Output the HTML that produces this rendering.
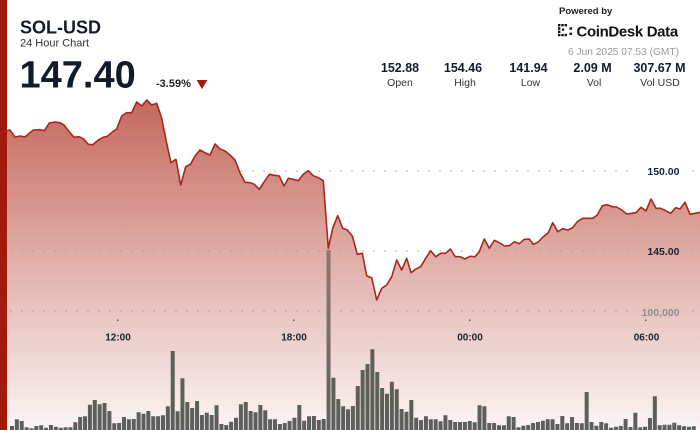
<!DOCTYPE html>
<html><head><meta charset="utf-8"><style>
html,body{margin:0;padding:0;background:#fff;}
svg{display:block;font-family:"Liberation Sans",sans-serif;}
</style></head><body>
<svg width="700" height="430" viewBox="0 0 700 430" xmlns="http://www.w3.org/2000/svg">
<defs>
<linearGradient id="ag" gradientUnits="userSpaceOnUse" x1="0" y1="95" x2="0" y2="430">
<stop offset="0" stop-color="#c4665b"/>
<stop offset="0.5" stop-color="#e1b0aa"/>
<stop offset="1" stop-color="#fbf5f4"/>
</linearGradient>
<linearGradient id="tb" gradientUnits="userSpaceOnUse" x1="0" y1="250" x2="0" y2="400">
<stop offset="0" stop-color="#8b7670"/>
<stop offset="0.5" stop-color="#7a716b"/>
<stop offset="1" stop-color="#62645d"/>
</linearGradient>
<path id="pl" d="M6,431 L6,130.7 L7,130.7 L10,130 L15,137.3 L20,136 L25,137 L33.3,130 L40,129.7 L44.3,130.7 L49.3,123 L55,122 L60,122.7 L64,125 L68.3,130.7 L74,137.3 L79,136.7 L83.3,138.7 L88.3,144.3 L92.7,144.7 L98.3,140 L103.3,137.3 L107.3,136.3 L112.7,131.7 L116.7,129 L121.7,116 L126.7,112.7 L131.7,112.7 L136.7,102 L141.7,106 L146.7,100 L151.7,105 L156.7,103.3 L161.7,118.3 L166.7,143.3 L171,162.7 L176,159.3 L180.7,185 L185.7,166.7 L190.7,164 L195,156 L200,150 L205,152.7 L210,155 L215,144 L220,149 L225,151 L230,155 L235,160 L240,172.7 L245,182.3 L250,182.7 L254.3,184.3 L259.3,189.3 L264.3,181.7 L269.3,174.3 L274.3,175.3 L279.3,176 L284,186 L288.3,178.3 L293.3,179.3 L298.3,180.7 L303.3,174.3 L308.3,170.7 L313.3,175.7 L318.3,177.7 L323.3,180.7 L328.3,248.3 L332.7,228.3 L337.7,215.7 L342.7,228.3 L347.3,230 L352.3,236 L357.3,254.3 L362.3,253.3 L366.7,276 L371.7,277.7 L376.7,300 L381.7,288.3 L386.7,285 L391.7,276.7 L396.7,260 L401.7,270 L406.7,258.3 L411,272.7 L416,269 L420.7,266.7 L425.7,258.3 L430.7,250.7 L435.7,256.7 L440.7,253.3 L445.7,253.3 L450.3,249 L455.3,256.7 L460,256.7 L465,259 L470,256.3 L475,256.7 L479.3,251.7 L484.3,239 L489.3,248.3 L494.3,240.3 L499.3,242.7 L504.3,246 L509.3,245.7 L514.3,241.7 L519.3,243.7 L524.3,239.3 L529.3,239 L533.3,244.3 L538.3,242 L543.3,236.7 L548.3,232.7 L552.7,222.7 L557.7,231.7 L562.7,228.7 L567.7,230 L572.7,227.7 L577.3,221.7 L582.7,218.3 L587.7,218.3 L592.7,218.3 L597.3,215 L602.3,205.7 L607.3,204.7 L612.3,206.7 L616.7,207 L621.7,210 L626.7,214 L631.7,213.3 L636,212.7 L641,207.3 L646,211 L651,199 L656,208.3 L660.7,208.3 L665.7,210.7 L670.7,213.3 L675.7,207.7 L680,209 L685,202.3 L690,214.3 L695,213.3 L700,212.3 L702,212.3 L702,431 Z"/>
</defs>
<rect width="700" height="430" fill="#fff"/>
<use href="#pl" fill="url(#ag)"/>
<g stroke="#9a9a9a" stroke-width="1.2" stroke-dasharray="1.2,9.8">
<line x1="10.4" y1="171" x2="634" y2="171"/>
<line x1="10.4" y1="251" x2="634" y2="251"/>
<line x1="10.4" y1="311" x2="634" y2="311"/>
<line x1="692.4" y1="171" x2="700" y2="171"/>
<line x1="692.4" y1="251" x2="700" y2="251"/>
<line x1="692.4" y1="311" x2="700" y2="311"/>
</g>
<g fill="#222">
<rect x="117.3" y="319.5" width="1" height="1.5"/>
<rect x="293.3" y="319.5" width="1" height="1.5"/>
<rect x="469.3" y="319.5" width="1" height="1.5"/>
<rect x="645.3" y="319.5" width="1" height="1.5"/>
</g>
<path fill="#5c6058" d="M10 426h4V430h-4z M14.87 419.3h4V430h-4z M19.74 421h4V430h-4z M24.61 427.3h4V430h-4z M29.48 428.3h4V430h-4z M34.35 426h4V430h-4z M39.22 425.3h4V430h-4z M44.09 427.7h4V430h-4z M48.96 425h4V430h-4z M53.83 426.7h4V430h-4z M58.7 427.7h4V430h-4z M63.57 427.3h4V430h-4z M68.44 427.3h4V430h-4z M73.31 422.3h4V430h-4z M78.18 417h4V430h-4z M83.05 416.3h4V430h-4z M87.92 404.7h4V430h-4z M92.79 400h4V430h-4z M97.66 404.3h4V430h-4z M102.53 403h4V430h-4z M107.4 411h4V430h-4z M112.27 423.3h4V430h-4z M117.14 423h4V430h-4z M122.01 417h4V430h-4z M126.88 419.3h4V430h-4z M131.75 419h4V430h-4z M136.62 412.3h4V430h-4z M141.49 413.7h4V430h-4z M146.36 411h4V430h-4z M151.23 416.3h4V430h-4z M156.1 416.3h4V430h-4z M160.97 415.3h4V430h-4z M165.84 406.3h4V430h-4z M170.71 351h4V430h-4z M175.58 411.3h4V430h-4z M180.45 378.3h4V430h-4z M185.32 402h4V430h-4z M190.19 408h4V430h-4z M195.06 401h4V430h-4z M199.93 415h4V430h-4z M204.8 412.7h4V430h-4z M209.67 415h4V430h-4z M214.54 405.3h4V430h-4z M219.41 424h4V430h-4z M224.28 425h4V430h-4z M229.15 421.7h4V430h-4z M234.02 417.7h4V430h-4z M238.89 404.3h4V430h-4z M243.76 402h4V430h-4z M248.63 411h4V430h-4z M253.5 412.3h4V430h-4z M258.37 405h4V430h-4z M263.24 410.3h4V430h-4z M268.11 419.3h4V430h-4z M272.98 419.3h4V430h-4z M277.85 424h4V430h-4z M282.72 423h4V430h-4z M287.59 421h4V430h-4z M292.46 417.7h4V430h-4z M297.33 405h4V430h-4z M302.2 420.7h4V430h-4z M307.07 416.3h4V430h-4z M311.94 416h4V430h-4z M316.81 420h4V430h-4z M321.68 419h4V430h-4z M331.42 377.7h4V430h-4z M336.29 399h4V430h-4z M341.16 406.3h4V430h-4z M346.03 409.3h4V430h-4z M350.9 406h4V430h-4z M355.77 386h4V430h-4z M360.64 370h4V430h-4z M365.51 364h4V430h-4z M370.38 349.3h4V430h-4z M375.25 372h4V430h-4z M380.12 388h4V430h-4z M384.99 393.7h4V430h-4z M389.86 381.7h4V430h-4z M394.73 389.3h4V430h-4z M399.6 409h4V430h-4z M404.47 411.7h4V430h-4z M409.34 400h4V430h-4z M414.21 417.7h4V430h-4z M419.08 420h4V430h-4z M423.95 416.3h4V430h-4z M428.82 419.3h4V430h-4z M433.69 419.3h4V430h-4z M438.56 421.3h4V430h-4z M443.43 415.3h4V430h-4z M448.3 420h4V430h-4z M453.17 422h4V430h-4z M458.04 422h4V430h-4z M462.91 422h4V430h-4z M467.78 421h4V430h-4z M472.65 422.3h4V430h-4z M477.52 405.3h4V430h-4z M482.39 406.3h4V430h-4z M487.26 423h4V430h-4z M492.13 423h4V430h-4z M497 425.3h4V430h-4z M501.87 425.3h4V430h-4z M506.74 416.3h4V430h-4z M511.61 417h4V430h-4z M516.48 427.3h4V430h-4z M521.35 425.7h4V430h-4z M526.22 425h4V430h-4z M531.09 423h4V430h-4z M535.96 422h4V430h-4z M540.83 420.7h4V430h-4z M545.7 419.3h4V430h-4z M550.57 419.3h4V430h-4z M555.44 424h4V430h-4z M560.31 416h4V430h-4z M565.18 423.3h4V430h-4z M570.05 417h4V430h-4z M574.92 423h4V430h-4z M579.79 423.3h4V430h-4z M584.66 392h4V430h-4z M589.53 422h4V430h-4z M594.4 425.7h4V430h-4z M599.27 422h4V430h-4z M604.14 423.3h4V430h-4z M609.01 427.7h4V430h-4z M613.88 426.7h4V430h-4z M618.75 426h4V430h-4z M623.62 419h4V430h-4z M628.49 427h4V430h-4z M633.36 412.7h4V430h-4z M638.23 427.3h4V430h-4z M643.1 426.7h4V430h-4z M647.97 418h4V430h-4z M652.84 396.3h4V430h-4z M657.71 425.3h4V430h-4z M662.58 424.7h4V430h-4z M667.45 424.7h4V430h-4z M672.32 422.7h4V430h-4z M677.19 425.3h4V430h-4z M682.06 426.3h4V430h-4z M686.93 426.7h4V430h-4z M691.8 426.3h4V430h-4z"/>
<rect x="326.55" y="250" width="4" height="180" fill="url(#tb)"/>
<use href="#pl" fill="none" stroke="#a8281b" stroke-width="1.6" stroke-linejoin="round"/>
<rect x="0" y="0" width="7" height="430" fill="#a21a0e"/>
<g font-size="10.5" font-weight="bold" text-anchor="end">
<text x="679.5" y="174.8" fill="#1b2232">150.00</text>
<text x="679.5" y="254.8" fill="#1b2232">145.00</text>
<text x="679.5" y="315.8" fill="#8e8e8e">100,000</text>
</g>
<g font-size="10" font-weight="bold" text-anchor="middle" fill="#1b2232">
<text x="118" y="340.5">12:00</text>
<text x="294" y="340.5">18:00</text>
<text x="470" y="340.5">00:00</text>
<text x="646.5" y="340.5">06:00</text>
</g>
<text x="20" y="33.7" font-size="18" font-weight="bold" fill="#141c2b">SOL-USD</text>
<text x="20" y="46.7" font-size="11" fill="#333">24 Hour Chart</text>
<text x="19.5" y="87.3" font-size="38" font-weight="bold" fill="#131b2b">147.40</text>
<text x="156" y="87" font-size="11" font-weight="bold" fill="#222">-3.59%</text>
<polygon points="196.5,80 207.5,80 202,89" fill="#a51b0e"/>
<g font-size="12.5" font-weight="bold" text-anchor="middle" fill="#141c2b">
<text x="400" y="72">152.88</text>
<text x="463" y="72">154.46</text>
<text x="528.5" y="72">141.94</text>
<text x="592.5" y="72">2.09 M</text>
<text x="659.5" y="72">307.67 M</text>
</g>
<g font-size="10.5" text-anchor="middle" fill="#333">
<text x="400" y="86">Open</text>
<text x="465" y="86">High</text>
<text x="530.5" y="86">Low</text>
<text x="594" y="86">Vol</text>
<text x="660" y="86">Vol USD</text>
</g>
<text x="559" y="13.8" font-size="9.5" font-weight="bold" fill="#222">Powered by</text>
<path fill="#111" d="M558 24h2.4v2.4h-2.4z M558 27.3h2.4v2.4h-2.4z M558 30.6h2.4v2.4h-2.4z M558 33.9h2.4v2.4h-2.4z M561.3 24h2.4v2.4h-2.4z M564.6 24h2.4v2.4h-2.4z M561.3 33.9h2.4v2.4h-2.4z M564.6 33.9h2.4v2.4h-2.4z M562 28.5h2.2v2.2h-2.2z M569.5 27.3h2.4v2.4h-2.4z M569.5 32.6h2.4v2.4h-2.4z"/>
<text x="576.5" y="36.6" font-size="15" font-weight="bold" letter-spacing="-0.35" fill="#111">CoinDesk Data</text>
<text x="568" y="54.8" font-size="10.2" fill="#9a9a9a">6 Jun 2025 07:53 (GMT)</text>
</svg>
</body></html>
